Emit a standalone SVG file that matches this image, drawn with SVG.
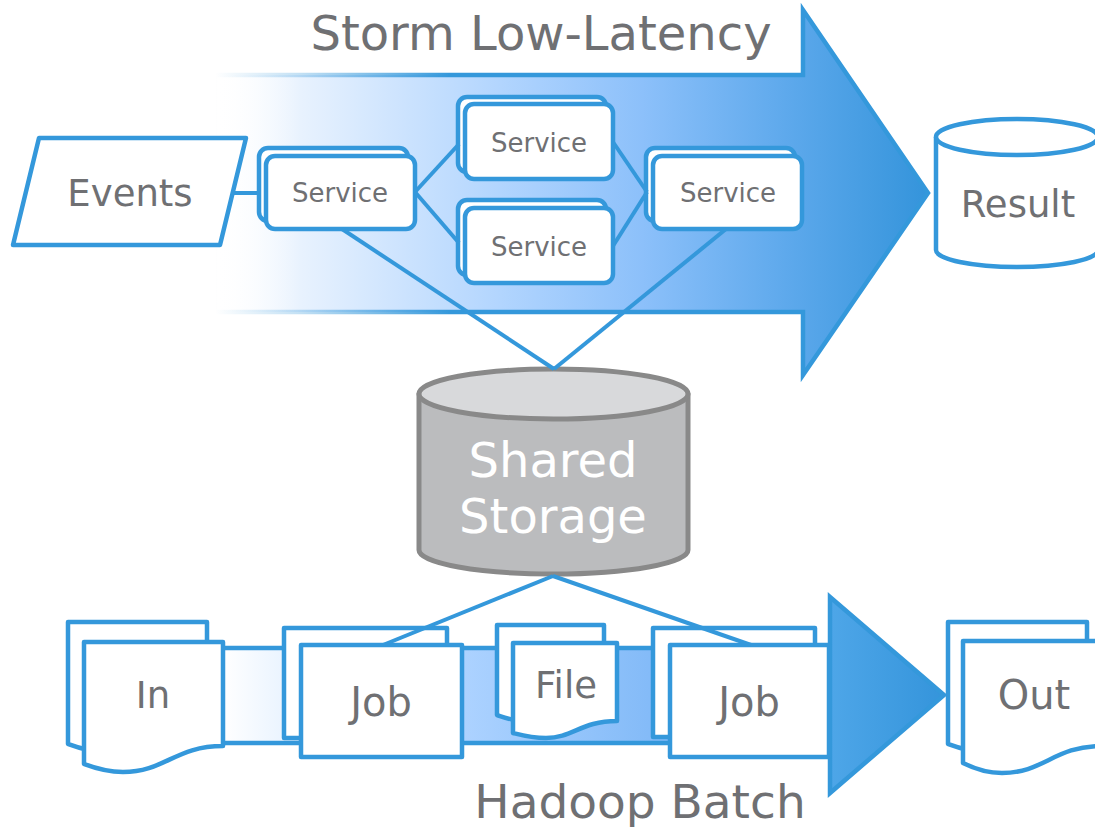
<svg xmlns="http://www.w3.org/2000/svg" width="1095" height="827" viewBox="0 0 1095 827">
<style>
.t{font-family:"DejaVu Sans",Verdana,sans-serif;fill:#6f7073}
.w{font-family:"DejaVu Sans",Verdana,sans-serif;fill:#ffffff}
.b{fill:#ffffff;stroke:#3498db;stroke-width:4.5;stroke-linejoin:round}
.ln{fill:none;stroke:#3498db;stroke-width:4}
</style>
<defs>
<linearGradient id="gTop" gradientUnits="userSpaceOnUse" x1="215" y1="0" x2="928" y2="0">
<stop offset="0" stop-color="#ffffff" stop-opacity="0"/>
<stop offset="0.12" stop-color="#e8f2fe"/>
<stop offset="0.4" stop-color="#b2d5fe"/>
<stop offset="0.6" stop-color="#8cc0fa"/>
<stop offset="0.8" stop-color="#5ea9ec"/>
<stop offset="1" stop-color="#3494db"/>
</linearGradient>
<linearGradient id="gTopS" gradientUnits="userSpaceOnUse" x1="215" y1="0" x2="928" y2="0">
<stop offset="0" stop-color="#3498db" stop-opacity="0"/>
<stop offset="0.12" stop-color="#3498db" stop-opacity="0.3"/>
<stop offset="0.33" stop-color="#3498db" stop-opacity="1"/>
<stop offset="1" stop-color="#3498db"/>
</linearGradient>
<linearGradient id="gBot" gradientUnits="userSpaceOnUse" x1="223" y1="0" x2="830" y2="0">
<stop offset="0" stop-color="#ffffff"/>
<stop offset="0.4" stop-color="#acd2ff"/>
<stop offset="0.7" stop-color="#84bbf8"/>
<stop offset="1" stop-color="#6db0f2"/>
</linearGradient>
<linearGradient id="gHead" gradientUnits="userSpaceOnUse" x1="830" y1="0" x2="945" y2="0">
<stop offset="0" stop-color="#4ea6e8"/>
<stop offset="1" stop-color="#3494db"/>
</linearGradient>
</defs>

<g id="storm-arrow">
<path d="M215,75 L803,75 L803,10 L928,193 L803,375 L803,312 L215,312 Z" fill="url(#gTop)" stroke="url(#gTopS)" stroke-width="4.5" stroke-linejoin="miter"/>
<text class="t" x="541" y="50" font-size="48" text-anchor="middle">Storm Low-Latency</text>
</g>

<g id="hadoop-arrow">
<rect x="215" y="648" width="615" height="95" fill="url(#gBot)" stroke="#3498db" stroke-width="4.5"/>
<path d="M830,597 L944,695 L830,793 Z" fill="url(#gHead)" stroke="#3498db" stroke-width="4.5" stroke-linejoin="miter"/>
<text class="t" x="640" y="818" font-size="47" text-anchor="middle">Hadoop Batch</text>
</g>

<g id="events">
<path class="b" d="M39,138 L246,138 L220,245 L13,245 Z"/>
<text class="t" x="130" y="206" font-size="37" text-anchor="middle">Events</text>
</g>

<g id="service1">
<rect class="b" x="259" y="148" width="149" height="73" rx="9"/>
<rect class="b" x="266" y="156" width="149" height="73" rx="9"/>
<text class="t" x="340" y="202" font-size="26" text-anchor="middle">Service</text>
</g>
<g id="service2">
<rect class="b" x="458" y="97" width="148" height="75" rx="9"/>
<rect class="b" x="465" y="104" width="148" height="75" rx="9"/>
<text class="t" x="539" y="152" font-size="26" text-anchor="middle">Service</text>
</g>
<g id="service3">
<rect class="b" x="458" y="200" width="148" height="75" rx="9"/>
<rect class="b" x="465" y="208" width="148" height="75" rx="9"/>
<text class="t" x="539" y="256" font-size="26" text-anchor="middle">Service</text>
</g>
<g id="service4">
<rect class="b" x="646" y="148" width="149" height="73" rx="9"/>
<rect class="b" x="653" y="156" width="149" height="73" rx="9"/>
<text class="t" x="728" y="202" font-size="26" text-anchor="middle">Service</text>
</g>

<g id="result">
<path class="b" d="M936,137 L936,250 A81,17 0 0 0 1098,250 L1098,137"/>
<ellipse class="b" cx="1017" cy="137" rx="81" ry="18"/>
<text class="t" x="1018" y="217" font-size="37" text-anchor="middle">Result</text>
</g>

<g id="shared-storage">
<path d="M419,394 L419,550 A134.5,24 0 0 0 688,550 L688,394 Z" fill="#bbbcbe" stroke="#898989" stroke-width="5" stroke-linejoin="round"/>
<ellipse cx="553.5" cy="394" rx="134.5" ry="25" fill="#d8d9db" stroke="#898989" stroke-width="5"/>
<text class="w" x="553" y="477" font-size="48" text-anchor="middle">Shared</text>
<text class="w" x="553" y="533" font-size="48" text-anchor="middle">Storage</text>
</g>

<g id="in">
<path class="b" d="M68,622 L207,622 L207,726 C159,726 149,752 107,752 C89,752 76,747 68,744 Z"/>
<path class="b" d="M84,642 L223,642 L223,746 C175,746 165,772 123,772 C105,772 92,767 84,764 Z"/>
<text class="t" x="153" y="708" font-size="37" text-anchor="middle">In</text>
</g>

<g id="job1">
<rect class="b" x="284" y="628" width="163" height="110"/>
<rect class="b" x="301" y="645" width="161" height="112"/>
<text class="t" x="381" y="716" font-size="40" text-anchor="middle">Job</text>
</g>

<g id="file">
<path class="b" d="M497,625 L604,625 L604,703 C568,703 560,722 530,722 C516,722 506,718 497,715 Z"/>
<path class="b" d="M513,643 L617,643 L617,721 C581,721 573,738 546,738 C532,738 521,735 513,733 Z"/>
<text class="t" x="566" y="698" font-size="37" text-anchor="middle">File</text>
</g>

<g id="job2">
<rect class="b" x="653" y="628" width="162" height="109"/>
<rect class="b" x="670" y="645" width="159" height="112"/>
<text class="t" x="749" y="716" font-size="40" text-anchor="middle">Job</text>
</g>

<g id="out">
<path class="b" d="M948,622 L1087,622 L1087,726 C1039,726 1029,752 987,752 C969,752 956,747 948,744 Z"/>
<path class="b" d="M963,641 L1102,641 L1102,746 C1054,746 1044,773 1002,773 C984,773 971,767 963,763 Z"/>
<text class="t" x="1034" y="709" font-size="40" text-anchor="middle">Out</text>
</g>

<g id="connectors">
<line class="ln" x1="232" y1="193" x2="259" y2="193"/>
<line class="ln" x1="415" y1="192" x2="459" y2="144"/>
<line class="ln" x1="415" y1="192" x2="459" y2="243"/>
<line class="ln" x1="613" y1="142" x2="647" y2="192"/>
<line class="ln" x1="613" y1="246" x2="647" y2="192"/>
<line class="ln" x1="342" y1="229" x2="554" y2="369"/>
<line class="ln" x1="726" y1="229" x2="554" y2="369"/>
<line class="ln" x1="553" y1="576" x2="383" y2="645"/>
<line class="ln" x1="553" y1="576" x2="751" y2="645"/>
</g>
</svg>
